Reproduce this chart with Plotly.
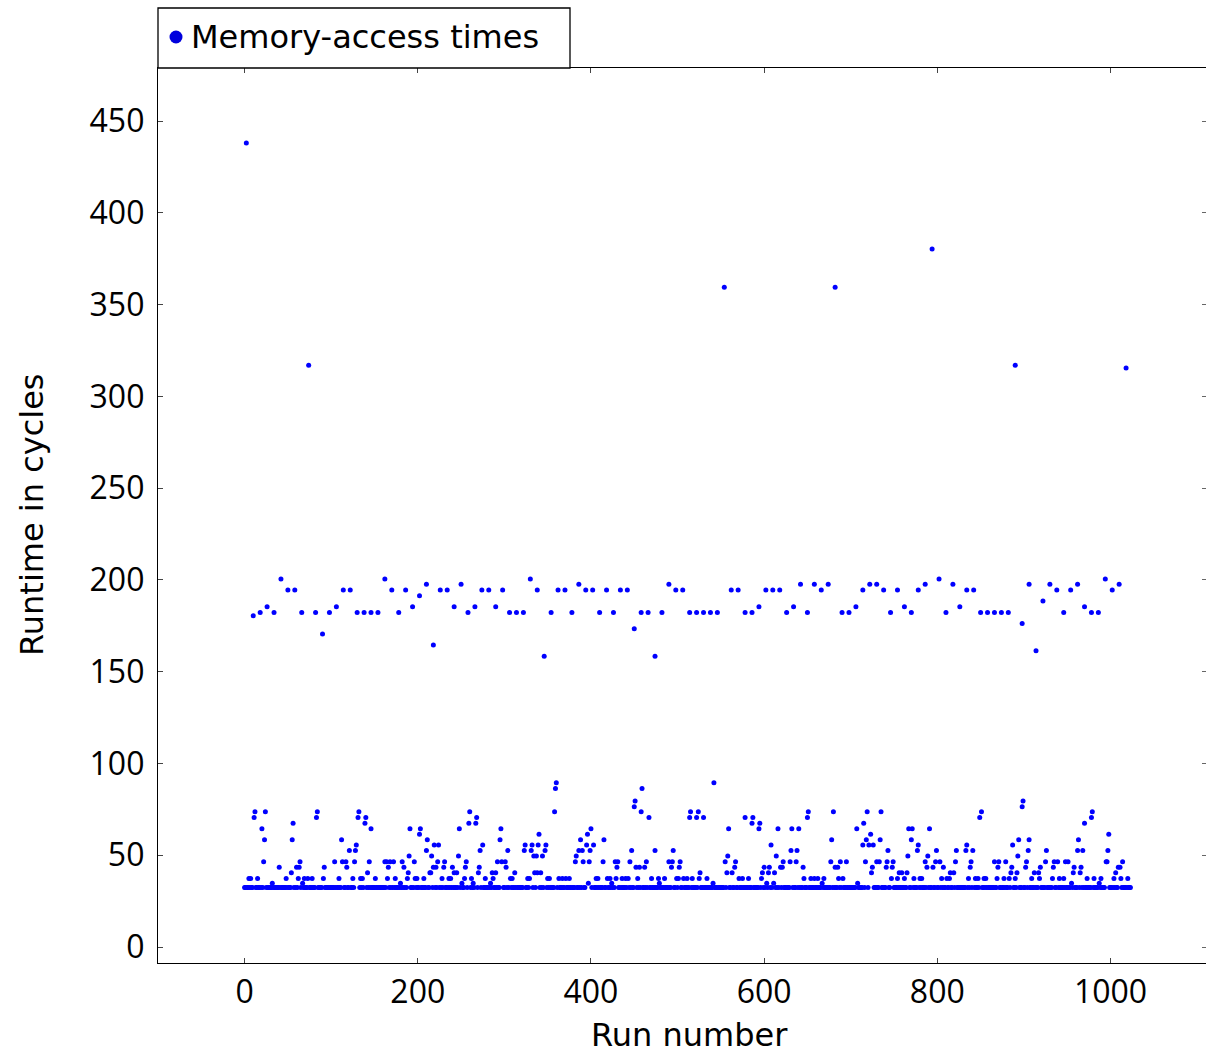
import plotly.graph_objects as go

W, H = 1206, 1056
L, R, T, B = 158, 1206, 68, 963  # plot-area pixel box

TICK_FONT = "Open Sans"
TEXT_FONT = "DejaVu Sans"

# Every 8th run (2, 10, 18, ...) lands in the slow band / outliers
band_values = [
    438,
    180.5, 182.3, 185.4, 182.3, 200.5, 194.5, 194.5, 182.3, 317, 182.3,
    170.5, 182.3, 185.4, 194.5, 194.5, 182.3, 182.3, 182.3, 182.3, 200.5,
    194.5, 182.3, 194.5, 185.4, 191.4, 197.6, 164.5, 194.5, 194.5, 185.4,
    197.6, 182.3, 185.4, 194.5, 194.5, 185.4, 194.5, 182.3, 182.3, 182.3,
    200.5, 194.5, 158.4, 182.3, 194.5, 194.5, 182.3, 197.6, 194.5, 194.5,
    182.3, 194.5, 182.3, 194.5, 194.5, 173.4, 182.3, 182.3, 158.4, 182.3,
    197.6, 194.5, 194.5, 182.3, 182.3, 182.3, 182.3, 182.3, 359.5, 194.5,
    194.5, 182.3, 182.3, 185.4, 194.5, 194.5, 194.5, 182.3, 185.4, 197.6,
    182.3, 197.6, 194.5, 197.6, 359.5, 182.3, 182.3, 185.4, 194.5, 197.6,
    197.6, 194.5, 182.3, 194.5, 185.4, 182.3, 194.5, 197.6, 380.3, 200.5,
    182.3, 197.6, 185.4, 194.5, 194.5, 182.3, 182.3, 182.3, 182.3, 182.3,
    317, 176.3, 197.6, 161.4, 188.5, 197.6, 194.5, 182.3, 194.5, 197.6,
    185.4, 182.3, 182.3, 200.5, 194.5, 197.6, 315.4,
]
band_first_run = 2
band_step = 8

n_runs = 1024
baseline_value = 32.5

# Runs that sit above the baseline in the fast region, grouped by level
low_levels = [89.5, 86.4, 79.5, 76.4, 73.7, 70.6, 67.5, 64.5, 61.5, 58.5,
              55.6, 52.6, 49.6, 46.5, 43.4, 40.5, 37.4, 34.7]
low_runs = [
    [360, 542],
    [359, 459],
    [451, 899],
    [450, 898],
    [12, 24, 84, 132, 260, 358, 458, 515, 524, 651, 680, 719, 735, 851, 979],
    [11, 83, 131, 140, 268, 467, 514, 522, 530, 578, 587, 650, 849, 978],
    [56, 139, 259, 267, 586, 595, 715, 970],
    [20, 146, 191, 203, 248, 296, 400, 559, 594, 616, 632, 640, 707, 767, 771, 791],
    [202, 340, 396, 723, 998],
    [23, 55, 112, 211, 295, 388, 415, 678, 718, 734, 770, 894, 906, 963],
    [129, 219, 224, 275, 324, 332, 339, 348, 395, 403, 608, 714, 721, 726, 778, 834, 887],
    [121, 128, 210, 272, 304, 323, 331, 347, 386, 390, 399, 447, 474, 495, 631, 638,
     743, 777, 799, 822, 833, 841, 905, 926, 962, 968, 997],
    [190, 216, 247, 334, 337, 344, 383, 558, 614, 766, 789, 893],
    [22, 64, 104, 113, 117, 127, 144, 162, 164, 168, 172, 182, 196, 223, 231, 256, 292,
     297, 301, 382, 391, 398, 414, 428, 431, 445, 464, 490, 494, 503, 555, 567, 622,
     630, 637, 677, 688, 695, 717, 730, 733, 742, 749, 786, 798, 803, 821, 839, 866,
     871, 879, 903, 925, 935, 939, 948, 951, 995, 996, 1014],
    [40, 60, 63, 92, 118, 166, 184, 218, 221, 230, 240, 255, 271, 302, 430, 452, 456,
     462, 493, 502, 566, 600, 606, 619, 621, 645, 682, 685, 725, 741, 748, 788, 795,
     807, 838, 870, 886, 902, 919, 934, 958, 966, 1009, 1011],
    [54, 142, 189, 214, 215, 242, 245, 270, 286, 290, 312, 335, 338, 342, 526, 557, 563,
     598, 605, 612, 724, 756, 759, 765, 815, 819, 885, 892, 912, 917, 957, 965, 1006],
    [5, 7, 15, 48, 62, 69, 73, 78, 91, 109, 125, 134, 136, 151, 165, 174, 188, 197, 199,
     207, 228, 236, 238, 254, 262, 278, 287, 307, 309, 327, 329, 350, 352, 363, 367,
     371, 375, 406, 408, 419, 422, 429, 436, 440, 443, 454, 470, 478, 485, 499, 501,
     507, 511, 517, 525, 534, 571, 575, 582, 597, 646, 654, 658, 662, 669, 686, 691,
     747, 754, 762, 773, 780, 782, 805, 811, 814, 836, 844, 847, 854, 856, 869, 877,
     883, 890, 909, 918, 933, 941, 946, 973, 981, 989, 1004, 1012, 1020],
    [32, 67, 180, 251, 264, 284, 397, 424, 479, 541, 603, 611, 667, 708, 955, 987],
]

x_ticks = [0, 200, 400, 600, 800, 1000]
y_ticks = [0, 50, 100, 150, 200, 250, 300, 350, 400, 450]
x_range = [-100, 1110.3]
y_range = [-8.7, 478.9]

# ---- assemble the single series ----
band_runs = [band_first_run + band_step * k for k in range(len(band_values))]
pairs = list(zip(band_runs, band_values))
used = set(band_runs)
for lvl, runs in zip(low_levels, low_runs):
    for r in runs:
        pairs.append((r, lvl))
        used.add(r)
for r in range(n_runs):
    if r not in used:
        pairs.append((r, baseline_value))
pairs.sort(key=lambda p: p[0])
xs = [p[0] for p in pairs]
ys = [p[1] for p in pairs]

BLUE = "#0000ff"

fig = go.Figure()
fig.add_trace(go.Scatter(
    x=xs, y=ys, mode="markers", name="Memory-access times",
    marker=dict(color=BLUE, size=5, line=dict(width=0)),
    showlegend=False,
))
# dummy trace to activate right-side tick axis
fig.add_trace(go.Scatter(x=[None], y=[None], yaxis="y2", showlegend=False,
                         hoverinfo="skip"))

pw, ph = R - L, B - T


def px(xp):
    return (xp - L) / pw


def py(yp):
    return (B - yp) / ph


tick_font = dict(family=TICK_FONT, size=32, color="black")
text_font = dict(family=TEXT_FONT, size=32, color="black")

fig.update_layout(
    width=W, height=H,
    margin=dict(l=L, r=W - R, t=T, b=H - B, pad=0),
    paper_bgcolor="white", plot_bgcolor="white",
    font=dict(family=TEXT_FONT, size=32, color="black"),
    xaxis=dict(
        range=x_range, tickvals=x_ticks, ticks="inside", ticklen=5,
        tickcolor="#444", tickwidth=1, showline=True, linecolor="black",
        linewidth=1.3, mirror="ticks", showgrid=False, zeroline=False,
        tickfont=tick_font, ticklabelstandoff=0,
    ),
    yaxis=dict(
        range=y_range, tickvals=y_ticks, ticks="inside", ticklen=5,
        tickcolor="#444", tickwidth=1, showline=True, linecolor="black",
        linewidth=1.3, mirror=False, showgrid=False, zeroline=False,
        tickfont=tick_font, ticklabelstandoff=6,
    ),
    yaxis2=dict(
        range=y_range, tickvals=y_ticks, ticks="inside", ticklen=4,
        tickcolor="#666", tickwidth=1, overlaying="y", side="right",
        showline=False, showgrid=False, zeroline=False, showticklabels=False,
    ),
    showlegend=False,
)

# Legend drawn as box + dot + text above the plot area
fig.add_shape(type="rect", xref="paper", yref="paper",
              x0=px(158), x1=px(570), y0=py(68), y1=py(8),
              line=dict(color="black", width=1.3), fillcolor="white")
fig.add_shape(type="circle", xref="paper", yref="paper",
              x0=px(169.5), x1=px(182.5), y0=py(43.5), y1=py(30.5),
              line=dict(width=0), fillcolor="#0000dd")
fig.add_annotation(text="Memory-access times", xref="paper", yref="paper",
                   x=px(189), y=py(37), xanchor="left", yanchor="middle",
                   showarrow=False, font=text_font)

# Axis titles
fig.add_annotation(text="Runtime in cycles", xref="paper", yref="paper",
                   x=px(32), y=py(515), xanchor="center", yanchor="middle",
                   textangle=-90, showarrow=False, font=text_font)
fig.add_annotation(text="Run number", xref="paper", yref="paper",
                   x=px(689), y=py(1035), xanchor="center", yanchor="middle",
                   showarrow=False, font=text_font)

fig.write_html(
    "out.html",
    config={"displayModeBar": False},
    post_script="document.body.style.margin='0';"
                "document.body.style.overflow='hidden';",
)
